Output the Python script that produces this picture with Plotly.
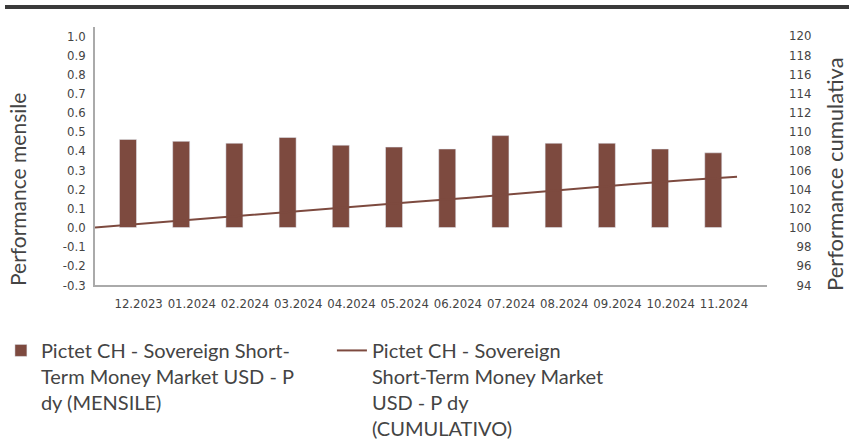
import plotly.graph_objects as go

months = ["12.2023", "01.2024", "02.2024", "03.2024", "04.2024", "05.2024",
          "06.2024", "07.2024", "08.2024", "09.2024", "10.2024", "11.2024"]
monthly = [0.46, 0.45, 0.44, 0.47, 0.43, 0.42, 0.41, 0.48, 0.44, 0.44, 0.41, 0.39]
cumulative = [100.0, 100.46, 100.91, 101.35, 101.83, 102.26, 102.69,
              103.11, 103.60, 104.05, 104.51, 104.93, 105.30]
left_ticks = [1.0, 0.9, 0.8, 0.7, 0.6, 0.5, 0.4, 0.3, 0.2, 0.1, 0.0, -0.1, -0.2, -0.3]
right_ticks = [120, 118, 116, 114, 112, 110, 108, 106, 104, 102, 100, 98, 96, 94]

name_bar = "Pictet CH - Sovereign Short-<br>Term Money Market USD - P<br>dy (MENSILE)"
name_line = "Pictet CH - Sovereign<br>Short-Term Money Market<br>USD - P dy<br>(CUMULATIVO)"

COLOR = "#7D4A3F"
TICKFONT = dict(family="DejaVu Sans Condensed, Liberation Sans Narrow, sans-serif",
                size=13, color="#444444")
LEGFONT = dict(family="Lato, Open Sans, sans-serif", size=20, color="#444444")
TITLEFONT_L = dict(family="Lato, Open Sans, sans-serif", size=21, color="#444444")
TITLEFONT_R = dict(family="Lato, Open Sans, sans-serif", size=22, color="#444444")

bar_x = list(range(len(months)))
line_x = list(range(len(cumulative)))

fig = go.Figure()
fig.add_trace(go.Bar(x=bar_x, y=monthly, name=name_bar, marker_color=COLOR,
                     width=0.32, xaxis="x", yaxis="y"))
fig.add_trace(go.Scatter(x=line_x, y=cumulative, name=name_line, mode="lines",
                         line=dict(color=COLOR, width=2), xaxis="x2", yaxis="y2"))

fig.update_layout(
    width=849, height=445,
    margin=dict(l=95, r=82, t=27, b=160, autoexpand=False),
    paper_bgcolor="white", plot_bgcolor="white",
    showlegend=True,
    legend=dict(orientation="h", x=-0.14, xanchor="left", y=-0.178, yanchor="top",
                font=LEGFONT, traceorder="normal", entrywidth=286, itemwidth=30,
                valign="top"),
    xaxis=dict(range=[-0.62, 12.01], tickmode="array",
               tickvals=[v + 0.2 for v in bar_x], ticktext=months, tickangle=0,
               showgrid=False, zeroline=False, showline=True, linecolor="#AAAAAA",
               linewidth=1.5, ticks="", tickfont=TICKFONT, ticklabelstandoff=6,
               automargin=False),
    xaxis2=dict(range=[0, 12.56], overlaying="x", visible=False),
    yaxis=dict(range=[-0.3, 1.047], tickmode="array", tickvals=left_ticks,
               ticktext=[f"{v:.1f}" for v in left_ticks],
               showgrid=False, zeroline=False, showline=True, linecolor="#AAAAAA",
               linewidth=1.5, ticks="", tickfont=TICKFONT, ticklabelstandoff=5,
               automargin=False),
    yaxis2=dict(range=[94, 120.93], overlaying="y", side="right", tickmode="array",
                tickvals=right_ticks,
                ticktext=[("\u2007" + str(v)) if v < 100 else str(v) for v in right_ticks],
                showgrid=False, zeroline=False, showline=False, ticks="",
                tickfont=TICKFONT, ticklabelstandoff=21, automargin=False),
    shapes=[dict(type="line", xref="paper", yref="paper",
                 x0=-90 / 672, x1=1 + 82 / 672, y0=(285 - 7) / 258, y1=(285 - 7) / 258,
                 line=dict(color="#3A3A3A", width=4))],
    annotations=[
        dict(text="Performance mensile", xref="paper", yref="paper",
             x=(17 - 95) / 672, y=(285 - 190) / 258, textangle=-90,
             showarrow=False, font=TITLEFONT_L, xanchor="center", yanchor="middle"),
        dict(text="Performance cumulativa", xref="paper", yref="paper",
             x=(834 - 95) / 672, y=(285 - 174) / 258, textangle=-90,
             showarrow=False, font=TITLEFONT_R, xanchor="center", yanchor="middle"),
    ],
)

fig.write_html("out.html")
